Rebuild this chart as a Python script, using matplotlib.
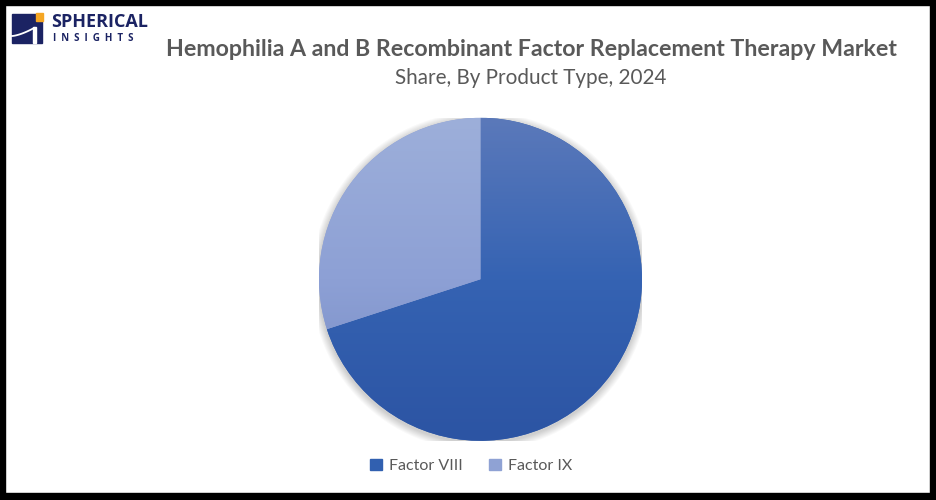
import matplotlib
matplotlib.use("Agg")
import matplotlib.pyplot as plt
import matplotlib.patches as mpatches
import numpy as np
from matplotlib.colors import LinearSegmentedColormap

categories = ["Factor VIII", "Factor IX"]
shares = [70.0, 30.0]
title = "Hemophilia A and B Recombinant Factor Replacement Therapy Market"
subtitle = "Share, By Product Type, 2024"

W, H = 936, 500
fig = plt.figure(figsize=(W / 100, H / 100), dpi=100)
fig.patch.set_facecolor("white")

def fx(px):
    return px / W

def fy(py):
    return 1 - py / H

# Frame border
for (x0, y0, w, h) in [(0, 0, 5, H), (930, 0, 6, H), (0, 0, W, 5), (0, 493, W, 7)]:
    fig.patches.append(mpatches.Rectangle((fx(x0), fy(y0 + h)), w / W, h / H,
                                          transform=fig.transFigure, color="black", zorder=10))

# Logo
navy = "#1b2363"
fig.patches.append(mpatches.Rectangle((fx(12), fy(43)), 30 / W, 29 / H, transform=fig.transFigure,
                                      color=navy, zorder=5))
fig.patches.append(mpatches.Rectangle((fx(36), fy(21)), 7 / W, 8 / H, transform=fig.transFigure,
                                      color="#f5a623", zorder=6))
fig.patches.append(mpatches.Rectangle((fx(33), fy(43)), 3 / W, 16 / H, transform=fig.transFigure,
                                      color="white", zorder=6))
tt = np.linspace(0, 1, 30)
fig.add_artist(plt.Line2D(fx(12 + 22 * tt), fy(36 - 8 * tt ** 1.5), transform=fig.transFigure,
                          color="white", lw=1.3, zorder=6))
fig.text(fx(51), fy(22), "SPHERICAL", fontsize=13, fontweight="bold", color=navy,
         family="Open Sans", va="center", ha="left")
fig.text(fx(53), fy(38.5), "I  N  S  I  G  H  T  S", fontsize=7, color=navy,
         family="Open Sans", va="center", ha="left", fontweight="bold")

# Titles
fig.text(fx(531), fy(50), title, fontsize=16.7, fontweight="bold", color="#595959",
         family="Lato", ha="center", va="center")
fig.text(fx(531), fy(78), subtitle, fontsize=14.9, color="#595959",
         family="Lato", ha="center", va="center")

# Pie
cx, cy, r = 480.5, 279.3, 161.5
ax = fig.add_axes([fx(cx - r), fy(cy + r), 2 * r / W, 2 * r / H])
ax.set_axis_off()

# soft shadow
for i in range(8):
    sh = mpatches.Circle((0, -0.012), 1.0 + 0.006 * (i + 1), color="black", alpha=0.025, lw=0,
                         zorder=0)
    ax.add_patch(sh)

wedges, _ = ax.pie(shares, startangle=90, counterclock=False, radius=1.0,
                   colors=["#3563b3", "#8da0d5"], wedgeprops=dict(linewidth=0))
ax.set_xlim(-1, 1)
ax.set_ylim(-1, 1)

grads = [
    LinearSegmentedColormap.from_list("g8", ["#2c54a3", "#3563b3", "#5b79ba"]),
    LinearSegmentedColormap.from_list("g9", ["#7489c2", "#8da0d5", "#9dafda"]),
]
grad = np.linspace(0, 1, 256).reshape(-1, 1)
for w, cm in zip(wedges, grads):
    im = ax.imshow(grad, cmap=cm, extent=(-1, 1, -1, 1), origin="lower", aspect="auto",
                   zorder=3)
    im.set_clip_path(w)
ax.set_xlim(-1, 1)
ax.set_ylim(-1, 1)

# Legend
handles = [mpatches.Patch(color=c) for c in ["#3160b0", "#8fa2d4"]]
leg = fig.legend(handles, categories, loc="center", bbox_to_anchor=(fx(471), fy(466)),
                 ncol=2, frameon=False, handlelength=0.75, handleheight=0.75,
                 handletextpad=0.45, columnspacing=1.6,
                 prop=dict(family="Lato", size=11.5))
for t in leg.get_texts():
    t.set_color("#595959")

fig.savefig("out.png", dpi=100, facecolor="white")
